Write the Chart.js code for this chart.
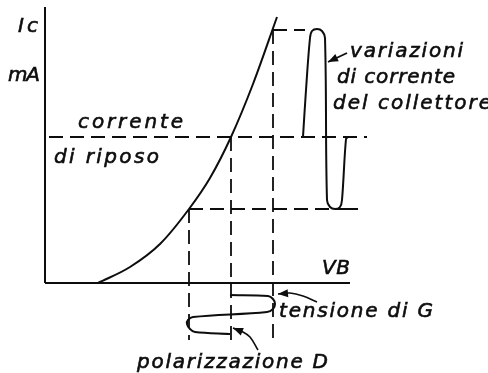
<!DOCTYPE html>
<html>
<head>
<meta charset="utf-8">
<script src="https://cdn.jsdelivr.net/npm/chart.js@4.4.1/dist/chart.umd.min.js"></script>
<style>
  html, body { margin: 0; padding: 0; background: #fff; }
  #wrap { width: 488px; height: 373px; }
</style>
</head>
<body>
<div id="wrap"><canvas id="schema" width="488" height="373"></canvas></div>
<script>
// caratteristica Ic / VB (unita' arbitrarie)
const curvaVB = [5.3, 8.5, 11.5, 14.4, 16.5, 18.6, 20.8, 23.2];
const curvaIc = [0, 1.6, 3.9, 7.4, 10.5, 14.6, 19.9, 26.6];

// punti di lavoro
const vbMin = 14.4, vbRiposo = 18.6, vbMax = 22.8;
const icMin = 7.4, icRiposo = 14.6, icMax = 25.3;

// variazioni di corrente del collettore
const uscitaX = [25.8, 26.1, 26.5, 26.7, 27.2, 27.7, 28.0, 28.2, 28.5, 29.0, 29.5, 29.7, 30.1, 30.3];
const uscitaY = [14.6, 19.3, 24.5, 25.2, 25.4, 25.2, 24.5, 8.3, 7.6, 7.4, 7.6, 8.3, 14.4, 14.6];

// tensione di G (segnale in ingresso)
const ingressoX = [18.5, 22.3, 22.8, 23.0, 22.8, 22.2, 14.8, 14.3, 14.2, 14.5, 15.0, 18.5];
const ingressoY = [-1.2, -1.3, -1.6, -2.1, -2.6, -2.9, -3.4, -3.7, -4.1, -4.6, -4.9, -5.1];

// frecce dei richiami
const frecciaCollX = [30.2, 28.3];
const frecciaCollY = [23.0, 22.1];
const frecciaGX = [27.2, 25.8, 24.5, 23.3];
const frecciaGY = [-1.9, -1.3, -1.0, -1.1];
const frecciaDX = [21.3, 20.5, 19.8, 18.8];
const frecciaDY = [-6.7, -5.4, -4.9, -4.5];

const etichette = [
  { testo: 'Ic', x: -0.7, y: 25.1, align: 'right', w: 20 },
  { testo: 'mA', x: -0.5, y: 20.2, align: 'right', w: 32 },
  { testo: 'corrente', x: 3.3, y: 15.5, w: 105 },
  { testo: 'di riposo', x: 0.9, y: 12.0, w: 105 },
  { testo: 'variazioni', x: 30.5, y: 22.6, w: 113 },
  { testo: 'di corrente', x: 29.2, y: 20.0, w: 118 },
  { testo: 'del collettore', x: 28.8, y: 17.4, w: 158 },
  { testo: 'VB', x: 27.7, y: 0.9, w: 28 },
  { testo: 'tensione di G', x: 23.4, y: -3.4, w: 154 },
  { testo: 'polarizzazione D', x: 9.2, y: -8.5, w: 191 }
];

const punti = (xs, ys) => xs.map((x, i) => ({ x: x, y: ys[i] }));
const nero = '#0d0d0d';

function linea(data, extra) {
  return Object.assign({
    data: data,
    showLine: true,
    borderColor: nero,
    borderWidth: 2,
    pointRadius: 0,
    fill: false,
    tension: 0
  }, extra || {});
}

const tratteggio = { borderDash: [14, 7], borderWidth: 1.8 };

const testiPlugin = {
  id: 'testi',
  afterDraw(chart) {
    const ctx = chart.ctx;
    const sx = chart.scales.x, sy = chart.scales.y;
    ctx.save();
    ctx.fillStyle = nero;
    ctx.strokeStyle = nero;
    ctx.lineWidth = 0.6;
    ctx.font = 'italic 20px "DejaVu Sans"';
    ctx.textBaseline = 'alphabetic';
    ctx.textAlign = 'left';
    etichette.forEach(e => {
      const chars = e.testo.split('');
      const nat = ctx.measureText(e.testo).width;
      const extra = chars.length > 1 ? (e.w - nat) / (chars.length - 1) : 0;
      let px = sx.getPixelForValue(e.x);
      if (e.align === 'right') px -= e.w;
      const py = sy.getPixelForValue(e.y);
      chars.forEach(c => {
        ctx.fillText(c, px, py);
        ctx.strokeText(c, px, py);
        px += ctx.measureText(c).width + extra;
      });
    });
    ctx.restore();
  }
};

const frecceePlugin = {
  id: 'frecce',
  afterDatasetsDraw(chart) {
    const ctx = chart.ctx;
    chart.data.datasets.forEach((ds, i) => {
      if (!ds.freccia) return;
      const pts = chart.getDatasetMeta(i).data;
      const a = pts[pts.length - 2], b = pts[pts.length - 1];
      const ang = Math.atan2(b.y - a.y, b.x - a.x);
      const len = 10, half = 4;
      ctx.save();
      ctx.fillStyle = nero;
      ctx.translate(b.x, b.y);
      ctx.rotate(ang);
      ctx.beginPath();
      ctx.moveTo(0, 0);
      ctx.lineTo(-len, -half);
      ctx.lineTo(-len, half);
      ctx.closePath();
      ctx.fill();
      ctx.restore();
    });
  }
};

new Chart(document.getElementById('schema'), {
  type: 'scatter',
  data: {
    datasets: [
      // assi
      linea(punti([0, 0], [27.6, 0])),
      linea(punti([0, 30.5], [0, 0])),
      // caratteristica
      linea(punti(curvaVB, curvaIc), { cubicInterpolationMode: 'monotone' }),
      // riferimenti tratteggiati
      linea(punti([0.4, 32.2], [icRiposo, icRiposo]), tratteggio),
      linea(punti([vbRiposo, vbRiposo], [icRiposo, -6.2]), tratteggio),
      linea(punti([vbMax, 26.0], [icMax, icMax]), tratteggio),
      linea(punti([vbMax, vbMax], [icMax, -5.7]), tratteggio),
      linea(punti([vbMin, 31.2], [icMin, icMin]), tratteggio),
      linea(punti([vbMin, vbMin], [icMin, -5.7]), tratteggio),
      linea(punti([29.0, 31.3], [icMin, icMin])),
      // forme d'onda
      linea(punti(uscitaX, uscitaY), { tension: 0.35 }),
      linea(punti(ingressoX, ingressoY), { tension: 0.35 }),
      // frecce
      linea(punti(frecciaCollX, frecciaCollY), { freccia: true, borderWidth: 1.8 }),
      linea(punti(frecciaGX, frecciaGY), { freccia: true, tension: 0.4, borderWidth: 1.6 }),
      linea(punti(frecciaDX, frecciaDY), { freccia: true, tension: 0.4, borderWidth: 1.6 })
    ]
  },
  options: {
    responsive: false,
    animation: false,
    layout: { padding: 0 },
    plugins: {
      legend: { display: false },
      tooltip: { enabled: false }
    },
    scales: {
      x: { type: 'linear', min: -4.5, max: 44.3, display: false },
      y: { type: 'linear', min: -9.0, max: 28.3, display: false }
    }
  },
  plugins: [testiPlugin, frecceePlugin]
});
</script>
</body>
</html>
